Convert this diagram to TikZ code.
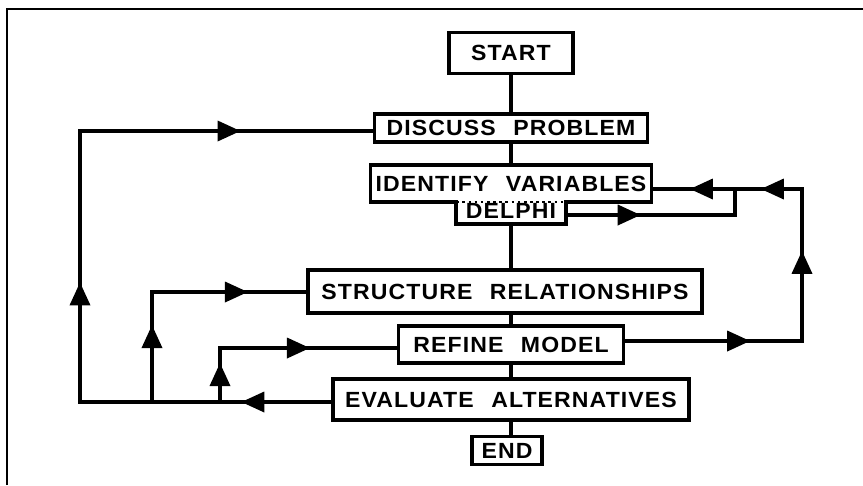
\documentclass[tikz,border=0pt]{standalone}
\usepackage{fontspec}
\setmainfont{Liberation Sans}[FakeStretch=1.05,LetterSpace=5]
\usetikzlibrary{arrows.meta, decorations.markings}

\begin{document}
\begin{tikzpicture}[
    x=0.02cm, y=-0.02cm,
    box/.style={rectangle, draw, line width=2pt, inner xsep=1pt, inner ysep=0pt, text centered, font=\bfseries\fontsize{12.5}{13}\selectfont},
    line/.style={line width=2pt, line join=miter},
    midarrow/.style={postaction={decorate, decoration={markings, mark=at position #1 with {\arrow{Triangle[length=0.46cm, width=0.4cm]}}}}}
]

\useasboundingbox (0,0) rectangle (863,485);
\draw[line width=1.4pt] (7,485) -- (7,9) -- (863,9);

\node[box, minimum width=2.48cm, minimum height=0.82cm] (start) at (511,53) {START};
\node[box, minimum width=5.46cm, minimum height=0.56cm] (discuss) at (511,128) {DISCUSS\hspace{0.8em}PROBLEM};
\node[box, draw=none, minimum width=5.56cm, minimum height=0.66cm] (identify) at (511,183.5) {IDENTIFY\hspace{0.8em}VARIABLES};
\node[box, draw=none, minimum width=2.12cm, minimum height=0.44cm] (delphi) at (511,211) {DELPHI};
\node[box, minimum width=7.88cm, minimum height=0.86cm] (structure) at (505,291.5) {STRUCTURE\hspace{0.8em}RELATIONSHIPS};
\node[box, minimum width=4.5cm, minimum height=0.74cm] (refine) at (511,344.5) {REFINE\hspace{0.8em}MODEL};
\node[box, minimum width=7.12cm, minimum height=0.82cm] (eval) at (511,399.5) {EVALUATE\hspace{0.8em}ALTERNATIVES};
\node[box, minimum width=1.4cm, minimum height=0.56cm] (end) at (507,450.5) {END};

% identify + delphi outline
\draw[line] (identify.north west) -- (identify.north east) -- (identify.south east)
  -- (identify.south east -| delphi.east) -- (delphi.south east) -- (delphi.south west)
  -- (identify.south west -| delphi.west) -- (identify.south west) -- cycle;
\draw[line width=1.3pt, dash pattern=on 1.5pt off 2pt] (identify.south west -| delphi.west) -- (identify.south east -| delphi.east);

% main line
\draw[line] (start.south) -- (discuss.north);
\draw[line] (discuss.south) -- (identify.north);
\draw[line] (delphi.south) -- (delphi.south |- structure.north);
\draw[line] (structure.south -| refine) -- (refine.north);
\draw[line] (refine.south) -- (eval.north);
\draw[line] (eval.south) -- (eval.south |- end.north);

% loops on the right
\coordinate (rtop) at (802,189);
\coordinate (rbot) at (802,341);
\coordinate (jtop) at (735,189);
\coordinate (jbot) at (735,215);

\draw[line, midarrow=2.5cm, midarrow=5.34cm, midarrow=7.4cm, midarrow=8.82cm]
  (refine.east |- rbot) -- (rbot) -- (rtop) -- (jtop) -- (identify.east |- jtop);
\draw[line, midarrow=1.5cm] (delphi.east |- jbot) -- (jbot) -- (jtop);

% loops on the left
\coordinate (lbot) at (80,402);
\coordinate (ltop) at (80,131);
\coordinate (mtop) at (152,292);
\coordinate (ntop) at (220,348);

\draw[line, midarrow=1.8cm, midarrow=7.42cm, midarrow=13.66cm]
  (eval.west |- lbot) -- (lbot) -- (ltop) -- (discuss.west |- ltop);
\draw[line, midarrow=1.54cm, midarrow=4.12cm] (mtop |- lbot) -- (mtop) -- (structure.west |- mtop);
\draw[line, midarrow=0.78cm, midarrow=2.88cm] (ntop |- lbot) -- (ntop) -- (refine.west |- ntop);

\end{tikzpicture}
\end{document}
